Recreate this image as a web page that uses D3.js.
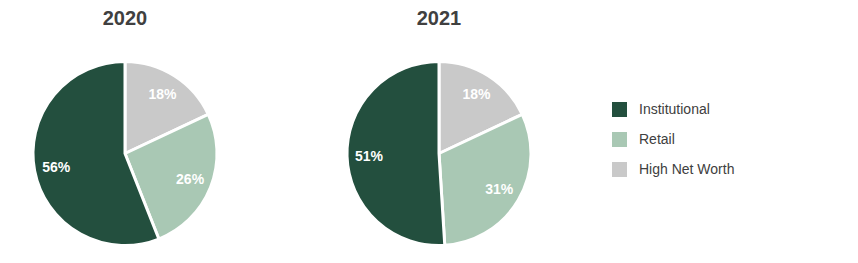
<!DOCTYPE html>
<html>
<head>
<meta charset="utf-8">
<script src="https://cdn.jsdelivr.net/npm/d3@7"></script>
<style>
  body { margin: 0; background: #fff; }
  text { font-family: "Liberation Sans", Arial, sans-serif; }
</style>
</head>
<body>
<div id="chart"></div>
<script>
// data
var categories = ["High Net Worth", "Retail", "Institutional"];
var years = ["2020", "2021"];
var values2020 = [18, 26, 56];
var values2021 = [18, 31, 51];
var legendOrder = ["Institutional", "Retail", "High Net Worth"];

var width = 858, height = 263;
var radius = 92;
var centers = [125, 439];

var color = d3.scaleOrdinal()
  .domain(categories)
  .range(["#c9c9c9", "#a9c8b4", "#234f3e"]);

var svg = d3.select("#chart")
  .append("svg")
  .attr("width", width)
  .attr("height", height);

var pie = d3.pie().sort(null).value(function(d) { return d.value; });
var arc = d3.arc().innerRadius(0).outerRadius(radius);
var labelArc = d3.arc().innerRadius(70).outerRadius(70);

[values2020, values2021].forEach(function(vals, i) {
  var data = categories.map(function(c, j) { return { cat: c, value: vals[j] }; });
  var g = svg.append("g")
    .attr("transform", "translate(" + centers[i] + ",153.5)");

  g.selectAll("path")
    .data(pie(data))
    .enter().append("path")
    .attr("d", arc)
    .attr("fill", function(d) { return color(d.data.cat); })
    .attr("stroke", "#fff")
    .attr("stroke-width", 3)
    .attr("stroke-linejoin", "round");

  g.selectAll("text.lbl")
    .data(pie(data))
    .enter().append("text")
    .attr("class", "lbl")
    .attr("transform", function(d) { return "translate(" + labelArc.centroid(d) + ")"; })
    .attr("text-anchor", "middle")
    .attr("dy", "0.35em")
    .attr("fill", "#fff")
    .attr("font-weight", "bold")
    .attr("font-size", 14)
    .text(function(d) { return d.data.value + "%"; });

  // year title
  svg.append("text")
    .attr("x", centers[i])
    .attr("y", 25)
    .attr("text-anchor", "middle")
    .attr("font-size", 20)
    .attr("font-weight", "bold")
    .attr("fill", "#404040")
    .text(years[i]);
});

// legend
var legend = svg.append("g").attr("transform", "translate(612,102)");
var item = legend.selectAll("g")
  .data(legendOrder)
  .enter().append("g")
  .attr("transform", function(d, i) { return "translate(0," + (i * 30) + ")"; });
item.append("rect")
  .attr("width", 15)
  .attr("height", 15)
  .attr("fill", function(d) { return color(d); });
item.append("text")
  .attr("x", 27)
  .attr("y", 12)
  .attr("font-size", 14)
  .attr("fill", "#404040")
  .text(function(d) { return d; });
</script>
</body>
</html>
